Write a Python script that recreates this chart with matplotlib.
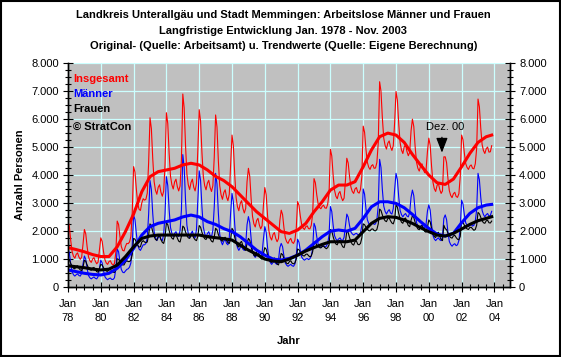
import matplotlib
matplotlib.use("Agg")
import matplotlib.pyplot as plt
from matplotlib.ticker import MultipleLocator, FuncFormatter
from matplotlib.patches import Rectangle
import numpy as np

plt.rcParams['font.family'] = ['Liberation Sans', 'DejaVu Sans']

# Monatswerte Jan. 1978 - Nov. 2003, eine Zeile pro Jahr
insgesamt_raw = [
    [2350, 2160, 1650, 1260, 1090, 1020, 1160, 1210, 1060, 980, 1060, 1530],
    [2050, 1890, 1430, 1070, 930, 870, 990, 1040, 910, 820, 880, 1300],
    [1750, 1620, 1250, 970, 850, 800, 900, 930, 820, 780, 830, 1240],
    [2350, 2230, 1800, 1440, 1300, 1280, 1440, 1550, 1540, 1600, 1800, 2650],
    [4300, 4100, 3500, 2980, 2770, 2730, 3000, 3150, 3100, 3130, 3350, 4450],
    [6050, 5660, 4590, 3770, 3450, 3310, 3560, 3650, 3380, 3240, 3420, 4380],
    [6230, 5840, 4770, 3960, 3650, 3500, 3750, 3850, 3580, 3430, 3610, 4570],
    [6900, 6400, 5050, 4030, 3650, 3480, 3730, 3850, 3560, 3430, 3700, 4900],
    [6340, 5930, 4800, 3950, 3620, 3470, 3710, 3810, 3550, 3410, 3620, 4630],
    [6150, 5720, 4520, 3620, 3290, 3130, 3370, 3470, 3210, 3080, 3310, 4360],
    [5430, 5040, 3990, 3190, 2860, 2720, 2980, 3080, 2800, 2640, 2800, 3760],
    [4240, 3950, 3140, 2520, 2250, 2140, 2370, 2450, 2210, 2070, 2180, 2910],
    [3550, 3290, 2560, 2000, 1770, 1670, 1870, 1940, 1730, 1610, 1720, 2370],
    [2740, 2580, 2110, 1750, 1610, 1550, 1670, 1730, 1590, 1550, 1660, 2080],
    [3050, 2910, 2520, 2220, 2100, 2050, 2150, 2180, 2080, 2070, 2200, 2600],
    [3870, 3720, 3290, 2970, 2840, 2790, 2880, 2920, 2820, 2810, 2950, 3350],
    [4920, 4680, 3990, 3460, 3240, 3150, 3340, 3410, 3200, 3080, 3170, 3800],
    [4600, 4430, 3950, 3570, 3410, 3340, 3500, 3550, 3390, 3350, 3480, 3940],
    [5750, 5530, 4920, 4460, 4280, 4200, 4330, 4370, 4240, 4250, 4450, 5150],
    [7340, 7000, 6050, 5330, 5060, 4930, 5140, 5220, 5000, 4880, 5050, 5890],
    [6990, 6680, 5820, 5160, 4890, 4770, 5010, 5080, 4840, 4690, 4810, 5580],
    [6000, 5740, 5010, 4460, 4240, 4140, 4330, 4400, 4200, 4080, 4190, 4840],
    [5320, 5060, 4320, 3750, 3510, 3410, 3620, 3700, 3480, 3340, 3430, 4650],
    [4650, 4440, 3870, 3440, 3270, 3190, 3330, 3380, 3230, 3200, 3330, 3950],
    [5430, 5260, 4780, 4410, 4270, 4200, 4320, 4360, 4240, 4220, 4400, 4950],
    [6720, 6440, 5680, 5090, 4870, 4770, 4940, 5000, 4820, 4830, 5050],
]

maenner_raw = [
    [1350, 1200, 820, 530, 430, 380, 430, 460, 400, 380, 480, 820],
    [1100, 980, 650, 400, 320, 280, 320, 350, 300, 280, 360, 650],
    [950, 850, 570, 360, 290, 250, 290, 310, 260, 260, 320, 640],
    [1350, 1250, 900, 620, 520, 500, 560, 620, 640, 700, 850, 1500],
    [2570, 2400, 1900, 1500, 1350, 1300, 1400, 1500, 1500, 1550, 1750, 2600],
    [3800, 3480, 2620, 1970, 1760, 1650, 1760, 1820, 1690, 1650, 1870, 2620],
    [3940, 3620, 2760, 2120, 1910, 1800, 1910, 1970, 1840, 1800, 2010, 2760],
    [4730, 4280, 3090, 2200, 1900, 1750, 1900, 1990, 1810, 1750, 2050, 3090],
    [4150, 3800, 2850, 2140, 1900, 1780, 1900, 1970, 1830, 1780, 2020, 2850],
    [4060, 3680, 2650, 1880, 1630, 1500, 1630, 1700, 1550, 1500, 1760, 2650],
    [3340, 3030, 2220, 1610, 1400, 1300, 1400, 1460, 1340, 1300, 1500, 2220],
    [2510, 2290, 1710, 1270, 1120, 1050, 1120, 1170, 1080, 1050, 1200, 1710],
    [2150, 1950, 1410, 1000, 870, 800, 870, 910, 830, 800, 940, 1400],
    [1550, 1430, 1100, 850, 770, 730, 770, 800, 750, 730, 810, 1100],
    [1700, 1590, 1290, 1060, 990, 950, 990, 1010, 970, 1000, 1100, 1350],
    [2270, 2140, 1790, 1530, 1440, 1400, 1440, 1470, 1420, 1450, 1550, 1850],
    [2870, 2690, 2200, 1830, 1710, 1650, 1710, 1750, 1670, 1650, 1770, 2200],
    [2600, 2490, 2190, 1960, 1890, 1850, 1890, 1910, 1870, 1850, 1930, 2190],
    [3500, 3310, 2790, 2400, 2270, 2200, 2270, 2300, 2230, 2250, 2400, 2900],
    [4560, 4270, 3480, 2890, 2700, 2600, 2700, 2760, 2640, 2600, 2800, 3480],
    [4060, 3830, 3200, 2730, 2580, 2500, 2580, 2620, 2530, 2500, 2660, 3200],
    [3460, 3260, 2710, 2300, 2170, 2100, 2170, 2210, 2130, 2100, 2240, 2710],
    [2930, 2740, 2230, 1840, 1710, 1650, 1710, 1750, 1680, 1650, 1780, 2450],
    [2570, 2400, 1950, 1620, 1510, 1450, 1510, 1540, 1470, 1500, 1650, 2150],
    [3100, 2960, 2580, 2290, 2200, 2150, 2200, 2230, 2170, 2200, 2350, 2750],
    [4060, 3830, 3200, 2730, 2580, 2500, 2580, 2620, 2530, 2550, 2700],
]

frauen_raw = [
    [1000, 960, 830, 730, 660, 640, 730, 750, 660, 600, 580, 710],
    [950, 910, 780, 670, 610, 590, 670, 690, 610, 540, 520, 650],
    [800, 770, 680, 610, 560, 550, 610, 620, 560, 520, 510, 600],
    [1000, 980, 900, 820, 780, 780, 880, 930, 900, 900, 950, 1150],
    [1730, 1700, 1600, 1480, 1420, 1430, 1600, 1650, 1600, 1580, 1600, 1850],
    [2250, 2180, 1970, 1800, 1690, 1660, 1800, 1830, 1690, 1590, 1550, 1760],
    [2290, 2220, 2010, 1840, 1740, 1700, 1840, 1880, 1740, 1630, 1600, 1810],
    [2170, 2120, 1960, 1830, 1750, 1730, 1830, 1860, 1750, 1680, 1650, 1810],
    [2190, 2130, 1950, 1810, 1720, 1690, 1810, 1840, 1720, 1630, 1600, 1780],
    [2090, 2040, 1870, 1740, 1660, 1630, 1740, 1770, 1660, 1580, 1550, 1710],
    [2090, 2010, 1770, 1580, 1460, 1420, 1580, 1620, 1460, 1340, 1300, 1540],
    [1730, 1660, 1430, 1250, 1130, 1090, 1250, 1280, 1130, 1020, 980, 1200],
    [1400, 1340, 1150, 1000, 900, 870, 1000, 1030, 900, 810, 780, 970],
    [1190, 1150, 1010, 900, 840, 820, 900, 930, 840, 820, 850, 980],
    [1350, 1320, 1230, 1160, 1110, 1100, 1160, 1170, 1110, 1070, 1100, 1250],
    [1600, 1580, 1500, 1440, 1400, 1390, 1440, 1450, 1400, 1360, 1400, 1500],
    [2050, 1990, 1790, 1630, 1530, 1500, 1630, 1660, 1530, 1430, 1400, 1600],
    [2000, 1940, 1760, 1610, 1520, 1490, 1610, 1640, 1520, 1500, 1550, 1750],
    [2250, 2220, 2130, 2060, 2010, 2000, 2060, 2070, 2010, 2000, 2050, 2250],
    [2780, 2730, 2570, 2440, 2360, 2330, 2440, 2460, 2360, 2280, 2250, 2410],
    [2930, 2850, 2620, 2430, 2310, 2270, 2430, 2460, 2310, 2190, 2150, 2380],
    [2540, 2480, 2300, 2160, 2070, 2040, 2160, 2190, 2070, 1980, 1950, 2130],
    [2390, 2320, 2090, 1910, 1800, 1760, 1910, 1950, 1800, 1690, 1650, 2200],
    [2080, 2040, 1920, 1820, 1760, 1740, 1820, 1840, 1760, 1700, 1680, 1800],
    [2330, 2300, 2200, 2120, 2070, 2050, 2120, 2130, 2070, 2020, 2050, 2200],
    [2660, 2610, 2480, 2360, 2290, 2270, 2360, 2380, 2290, 2280, 2350],
]

# Trendwerte, halbjaehrlich ab Jan. 1978, letzter Wert Nov. 2003
insgesamt_trend = [1400, 1330, 1250, 1150, 1080, 1080, 1430, 1970, 2600, 3400,
                   3940, 4120, 4180, 4240, 4360, 4420, 4360, 4180, 3950, 3800,
                   3580, 3280, 2980, 2685, 2446, 2208, 1970, 1910, 2030, 2267,
                   2685, 3043, 3460, 3640, 3640, 3760, 4296, 4893, 5370, 5500,
                   5430, 5167, 4737, 4356, 3997, 3723, 3663, 3855, 4296, 4773,
                   5167, 5370, 5430]
maenner_trend = [600, 540, 480, 440, 420, 480, 660, 950, 1370, 1850,
                 2150, 2270, 2330, 2390, 2500, 2565, 2500, 2330, 2230, 2080,
                 1970, 1790, 1550, 1310, 1130, 990, 955, 1015, 1130, 1310,
                 1550, 1790, 1990, 2030, 1990, 2090, 2446, 2860, 3040, 3040,
                 2983, 2828, 2590, 2327, 2088, 1885, 1814, 1910, 2290, 2625,
                 2828, 2924, 2947]
frauen_trend = [750, 715, 680, 630, 600, 630, 775, 1075, 1430, 1730,
                1815, 1850, 1850, 1850, 1850, 1850, 1850, 1790, 1755, 1720,
                1670, 1490, 1310, 1160, 990, 920, 895, 990, 1130, 1280,
                1400, 1515, 1610, 1610, 1610, 1670, 1970, 2267, 2446, 2506,
                2482, 2387, 2267, 2112, 1970, 1850, 1814, 1910, 2065, 2231,
                2363, 2446, 2506]

jahre_ticks = list(range(1978, 2005, 2))
tick_texte = ["Jan\n%02d" % (j % 100) for j in jahre_ticks]


def flach(zeilen):
    werte = []
    for z in zeilen:
        werte.extend(z)
    return werte


ins = flach(insgesamt_raw)
mae = flach(maenner_raw)
fra = flach(frauen_raw)
x_monat = 1978 + np.arange(len(ins)) / 12.0
x_trend = list(1978 + np.arange(len(insgesamt_trend) - 1) * 0.5) + [2003 + 10 / 12.0]

fig = plt.figure(figsize=(5.61, 3.57), dpi=100)
ax = fig.add_axes([68 / 561, 1 - 286.7 / 357, 442 / 561, 223.4 / 357])
ax.set_facecolor("#c0c0c0")

ax.plot(x_monat, ins, color="#ff0000", lw=0.8, zorder=3)
ax.plot(x_monat, mae, color="#0000ff", lw=0.8, zorder=3)
ax.plot(x_monat, fra, color="black", lw=0.8, zorder=3)
ax.plot(x_trend, insgesamt_trend, color="#ff0000", lw=2.2, zorder=4)
ax.plot(x_trend, maenner_trend, color="#0000ff", lw=2.2, zorder=4)
ax.plot(x_trend, frauen_trend, color="black", lw=2.2, zorder=4)

ax.set_xlim(1978, 2004.95)
ax.set_ylim(0, 8000)
ax.set_xticks(jahre_ticks)
ax.set_xticklabels(tick_texte, linespacing=1.6)
ax.xaxis.set_minor_locator(MultipleLocator(0.5))
ax.yaxis.set_major_locator(MultipleLocator(1000))
ax.yaxis.set_minor_locator(MultipleLocator(250))
fmt = FuncFormatter(lambda v, p: "{:,.0f}".format(v).replace(",", "."))
ax.yaxis.set_major_formatter(fmt)
ax.grid(True, which="major", color="#ccffff", lw=0.9, zorder=1)
ax.set_axisbelow(True)

ax2 = ax.twinx()
ax2.set_ylim(0, 8000)
ax2.yaxis.set_major_locator(MultipleLocator(1000))
ax2.yaxis.set_minor_locator(MultipleLocator(250))
ax2.yaxis.set_major_formatter(fmt)

for a in (ax, ax2):
    a.spines["top"].set_visible(False)
    for s in ("left", "right", "bottom"):
        a.spines[s].set_linewidth(1.0)
    a.tick_params(which="major", direction="inout", length=7, width=0.8,
                  labelsize=8, pad=3)
    a.tick_params(which="minor", direction="inout", length=4, width=0.8)
ax.tick_params(axis="x", which="major", pad=5)

ax.text(0.011, 0.928, "Insgesamt", color="#ff0000", fontsize=8,
        fontweight="bold", transform=ax.transAxes, va="center", zorder=6)
ax.text(0.011, 0.862, "Männer", color="#0000ff", fontsize=8,
        fontweight="bold", transform=ax.transAxes, va="center", zorder=6)
ax.text(0.011, 0.794, "Frauen", color="black", fontsize=8,
        fontweight="bold", transform=ax.transAxes, va="center", zorder=6)
ax.text(0.011, 0.716, "© StratCon", color="black", fontsize=8,
        fontweight="bold", transform=ax.transAxes, va="center", zorder=6)

ax.annotate("", xy=(2000.8, 4700), xytext=(2000.8, 5450),
            arrowprops=dict(arrowstyle="-|>,head_width=0.35,head_length=0.9",
                            color="black", lw=0.9), zorder=6)
ax.text(2001.0, 5730, "Dez. 00", fontsize=8, ha="center", va="center", zorder=6)

fig.text(0.505, 1 - 15 / 357, "Landkreis Unterallgäu und Stadt Memmingen: Arbeitslose Männer und Frauen",
         ha="center", va="center", fontsize=8, fontweight="bold")
fig.text(0.505, 1 - 31 / 357, "Langfristige Entwicklung Jan. 1978 - Nov. 2003",
         ha="center", va="center", fontsize=8, fontweight="bold")
fig.text(0.505, 1 - 46 / 357, "Original- (Quelle: Arbeitsamt) u. Trendwerte (Quelle: Eigene Berechnung)",
         ha="center", va="center", fontsize=8, fontweight="bold")
fig.text(20 / 561, 1 - 175 / 357, "Anzahl Personen", rotation=90,
         ha="center", va="center", fontsize=8, fontweight="bold")
fig.text(289 / 561, 1 - 341 / 357, "Jahr", ha="center", va="center",
         fontsize=8, fontweight="bold")

fig.patches.append(Rectangle((0.001, 0.002), 0.997, 0.996, transform=fig.transFigure,
                             fill=False, edgecolor="black", lw=1.5))

fig.savefig("out.png", dpi=100)
